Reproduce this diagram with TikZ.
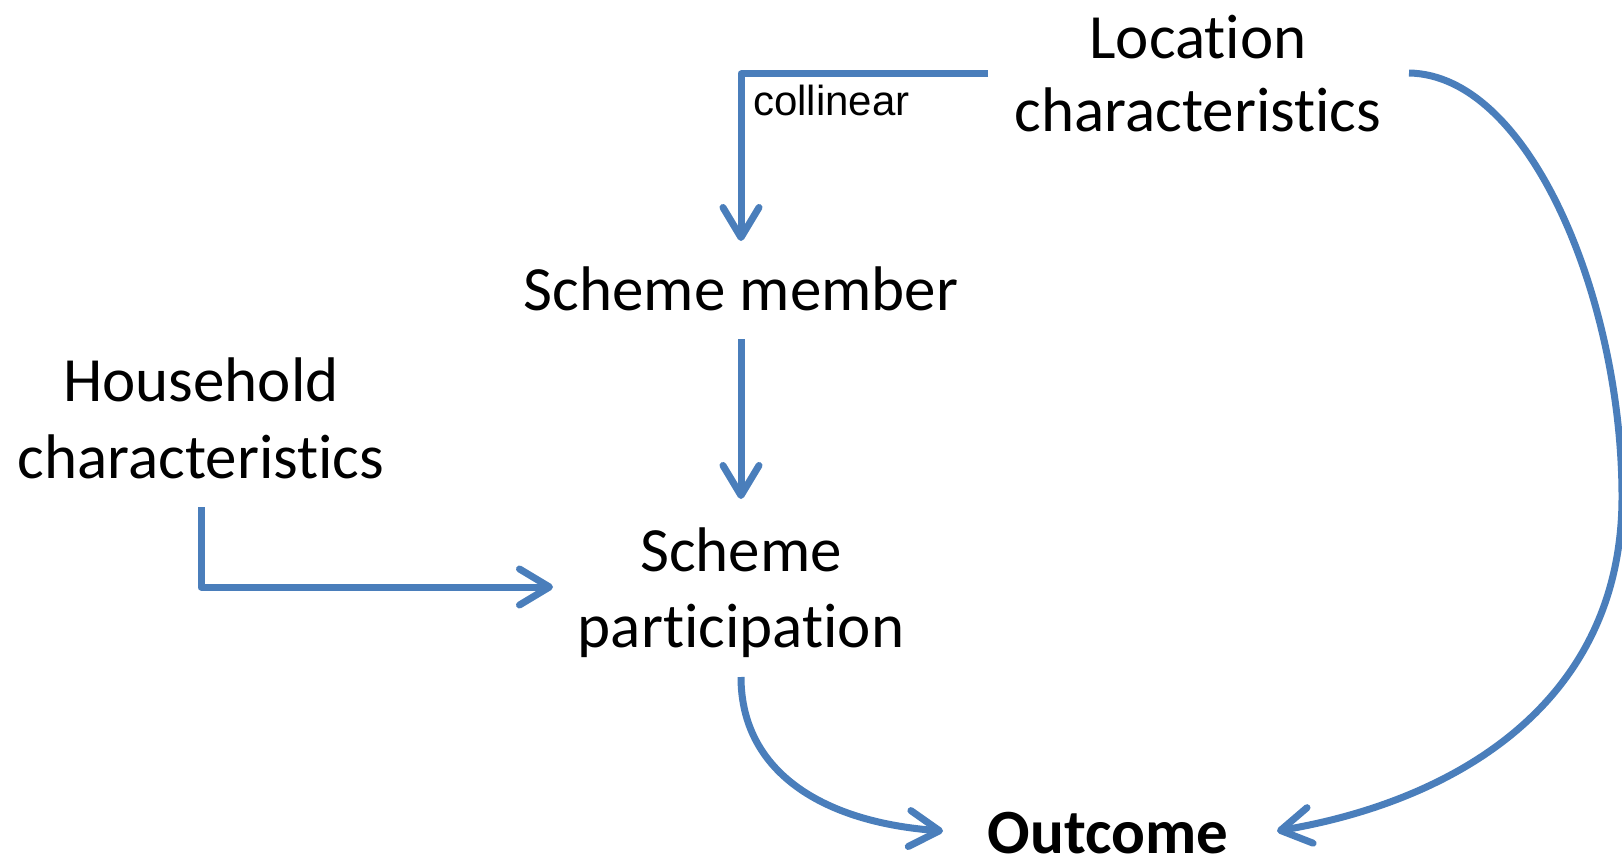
\documentclass[tikz,border=0pt]{standalone}
\usepackage{fontspec}
\setmainfont{Carlito}[RawFeature={-liga;-clig;-calt;-dlig}]
\newfontfamily\arialf{Liberation Sans}
\newcommand\tI{t\kern0pt i}
\usetikzlibrary{arrows.meta,calc}
\definecolor{linkblue}{HTML}{4A7EBB}
\tikzset{
  lbl/.style={font=\fontsize{63}{75}\selectfont, inner sep=0pt, anchor=base},
  conn/.style={draw=linkblue, line width=7pt, line join=round,
    -{Straight Barb[length=30pt,width=36pt,round]}},
}
\begin{document}
\begin{tikzpicture}[x=1pt,y=-1pt]
\useasboundingbox (0,0) rectangle (1622,861);
\node[lbl] (loc1) at (1198,59) {Loca\tI on};
\node[lbl] (loc2) at (1198,132) {characteris\tI cs};
\node[lbl] (sm) at (741,310) {Scheme member};
\node[lbl] (hh1) at (201,401) {Household};
\node[lbl] (hh2) at (201,478) {characteris\tI cs};
\node[lbl] (sp1) at (741,571) {Scheme};
\node[lbl] (sp2) at (741,647) {par\tI cipa\tI on};
\node[lbl, font=\fontsize{63}{75}\selectfont\bfseries] (out) at (1108,853) {Outcome};
\node[inner sep=0pt, anchor=base west, font=\arialf\fontsize{42}{50}\selectfont] (col) at (753,116) {collinear};

\draw[conn] ($(loc2.base)+(-210,-58)$) -| ($(sm.base)+(0,-69)$);
\draw[conn] ($(sm.base)+(0,29)$) -- ($(sp1.base)+(0,-72)$);
\draw[conn] ($(hh2.base)+(0,29)$) |- ($(sp1.base)+(-188,16)$);
\draw[conn] ($(sp2.base)+(0,30)$) .. controls (741,770) and (820,822) .. ($(out.base)+(-165,-22)$);
\draw[conn] ($(loc2.base)+(211,-59)$) .. controls (1530,75) and (1622,300) .. (1622,497)
  .. controls (1622,700) and (1460,800) .. ($(out.base)+(169,-22)$);
\end{tikzpicture}
\end{document}
